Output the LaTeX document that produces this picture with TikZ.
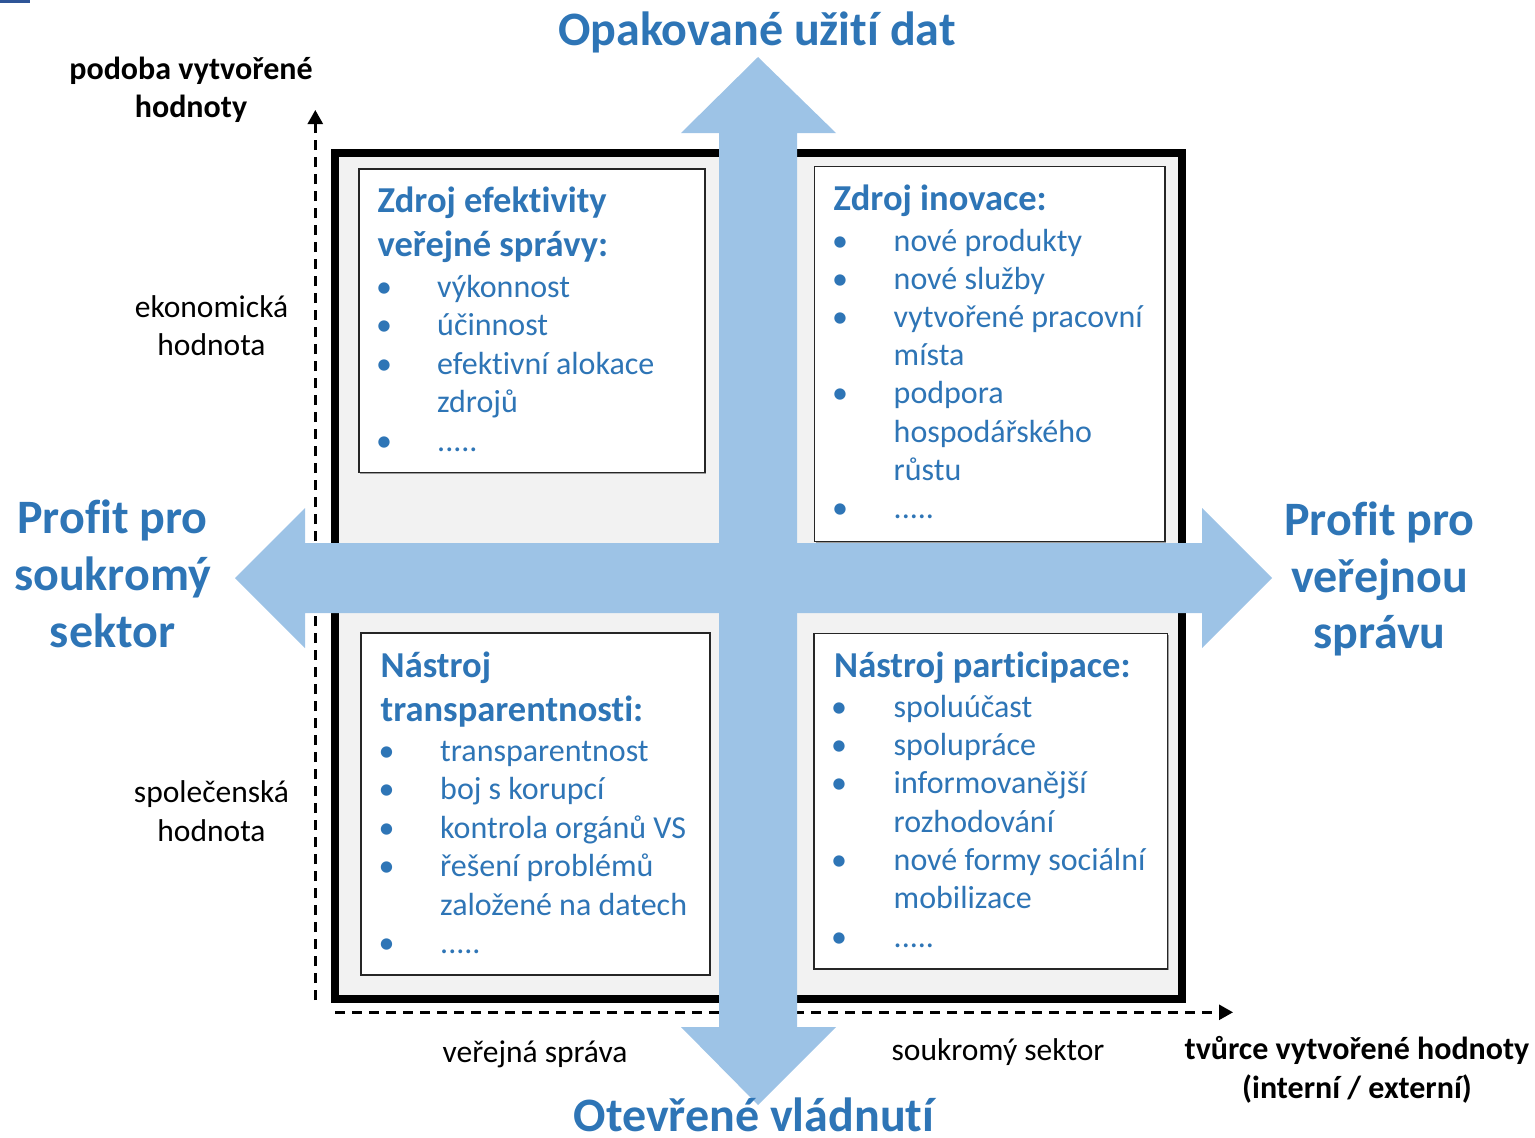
\documentclass[tikz,border=0pt]{standalone}
\usepackage{fontspec}
\setmainfont{Carlito}[Ligatures=CommonOff]
\usetikzlibrary{arrows.meta,shadows}
\definecolor{arrowblue}{HTML}{9DC3E6}
\definecolor{txtblue}{HTML}{2E75B6}
\definecolor{framegray}{HTML}{F2F2F2}
\definecolor{markblue}{HTML}{2F5597}
\newcommand\qqdots{.....}
\tikzset{
  boxbody/.style={font=\fontsize{32}{38}\selectfont, text=txtblue, anchor=base west, inner sep=0pt},
  boxhead/.style={font=\fontsize{36.5}{43}\selectfont\bfseries, text=txtblue, anchor=base west, inner sep=0pt},
  axlab/.style={font=\fontsize{31.5}{38}\selectfont, anchor=base, inner sep=0pt},
  axlabb/.style={font=\fontsize{32}{38}\selectfont\bfseries, anchor=base, inner sep=0pt},
  bigtitle/.style={font=\fontsize{48}{57}\selectfont\bfseries, text=txtblue, anchor=base, inner sep=0pt},
  qbox/.style={draw=black!85, line width=1.3pt, fill=white, anchor=north west, inner sep=0pt,
    drop shadow={shadow xshift=1.5pt, shadow yshift=-1.5pt, opacity=0.35, fill=black}},
  axisline/.style={dash pattern=on 10pt off 7pt, line width=2.6pt, -{Triangle[length=14pt,width=15pt]}},
  crossarrow/.style={fill=arrowblue, draw=none},
}
\begin{document}
\begin{tikzpicture}[x=1pt,y=-1pt]
\useasboundingbox (0,0) rectangle (1535,1138);
\fill[markblue] (0,0) rectangle (30,3);

% axes
\coordinate (ybot) at (315.3,1000);
\coordinate (ytop) at (315.3,110);
\coordinate (xleft) at (335,1012.3);
\coordinate (xright) at (1233,1012.3);
\draw[axisline] (ybot) -- (ytop);
\draw[axisline] (xleft) -- (xright);

% frame
\draw[line width=8pt, fill=framegray] (335.3,152.5) rectangle (1181.8,999.2);

% quadrant boxes
\node[qbox, minimum width=346pt, minimum height=303.4pt] (tl) at (358.3,168.3) {};
\node[qbox, minimum width=350.3pt, minimum height=374.7pt] (tr) at (814,166) {};
\node[qbox, minimum width=349pt, minimum height=342pt] (bl) at (360.3,632.3) {};
\node[qbox, minimum width=353.4pt, minimum height=335.6pt] (br) at (813.3,632.7) {};

% TL
\node[boxhead] (tlh1) at (377.5,212) {Zdroj efektivity};
\node[boxhead] (tlh2) at (377.5,256) {veřejné správy:};
\foreach \y/\b/\t [count=\i] in {297/1/výkonnost, 335.5/1/účinnost, 374/1/efektivní alokace, 412.5/0/zdrojů, 451/1/\qqdots} {
  \node[boxbody] (tl-\i) at (437,\y) {\t};
  \ifnum\b=1 \node[boxbody] (tlb-\i) at (376,\y) {•};\fi
}
% TR
\node[boxhead] (trh1) at (833.5,210) {Zdroj inovace:};
\foreach \y/\b/\t [count=\i] in {251/1/nové produkty, 289/1/nové služby, 327.5/1/vytvořené pracovní, 365.5/0/místa, 403.5/1/podpora, 442/0/hospodářského, 480/0/růstu, 518.5/1/\qqdots} {
  \node[boxbody] (tr-\i) at (893.5,\y) {\t};
  \ifnum\b=1 \node[boxbody] (trb-\i) at (832,\y) {•};\fi
}
% BL
\node[boxhead] (blh1) at (380.5,677) {Nástroj};
\node[boxhead] (blh2) at (380.5,721) {transparentnosti:};
\foreach \y/\b/\t [count=\i] in {761.5/1/transparentnost, 799.5/1/boj s korupcí, 838/1/kontrola orgánů VS, 876.5/1/řešení problémů, 915/0/založené na datech, 953/1/\qqdots} {
  \node[boxbody] (bl-\i) at (440,\y) {\t};
  \ifnum\b=1 \node[boxbody] (blb-\i) at (378.5,\y) {•};\fi
}
% BR
\node[boxhead] (brh1) at (834,677) {Nástroj participace:};
\foreach \y/\b/\t [count=\i] in {717/1/spoluúčast, 755.5/1/spolupráce, 793.5/1/informovanější, 832/0/rozhodování, 870/1/nové formy sociální, 908.5/0/mobilizace, 947/1/\qqdots} {
  \node[boxbody] (br-\i) at (893.5,\y) {\t};
  \ifnum\b=1 \node[boxbody] (brb-\i) at (831,\y) {•};\fi
}

% cross arrow
\fill[crossarrow] (719,133) -- (681,133) -- (758,57) -- (836,133) -- (797,133) -- (797,1027) -- (836,1027) -- (758,1105) -- (681,1027) -- (719,1027) -- cycle;
\fill[crossarrow] (305,543) -- (305,508) -- (235,578) -- (305,648) -- (305,613) -- (1202,613) -- (1202,648) -- (1272,578) -- (1202,508) -- (1202,543) -- cycle;

% big titles
\node[bigtitle] (ttop) at (757,45) {Opakované užití dat};
\node[bigtitle, text depth=0pt] (tbot) at (754,1131.5) {Otevřené vládnutí};
\node[bigtitle] (tl1) at (112.5,533) {Profit pro};
\node[bigtitle] (tl2) at (112.5,590) {soukromý};
\node[bigtitle] (tl3) at (112.5,647) {sektor};
\node[bigtitle] (tr1) at (1379.5,535) {Profit pro};
\node[bigtitle] (tr2) at (1379.5,592) {veřejnou};
\node[bigtitle] (tr3) at (1379.5,648.5) {správu};

% axis labels
\node[axlabb] (ya1) at (191,79) {podoba vytvořené};
\node[axlabb] (ya2) at (191,117) {hodnoty};
\node[axlab] (ek1) at (211.5,317) {ekonomická};
\node[axlab] (ek2) at (211.5,355) {hodnota};
\node[axlab] (sp1) at (211.5,802) {společenská};
\node[axlab] (sp2) at (211.5,841) {hodnota};
\node[axlab] (vs) at (535,1062) {veřejná správa};
\node[axlab] (ss) at (998,1060) {soukromý sektor};
\node[axlabb] (xa1) at (1357,1059) {tvůrce vytvořené hodnoty};
\node[axlabb] (xa2) at (1357,1098) {(interní / externí)};
\end{tikzpicture}
\end{document}
